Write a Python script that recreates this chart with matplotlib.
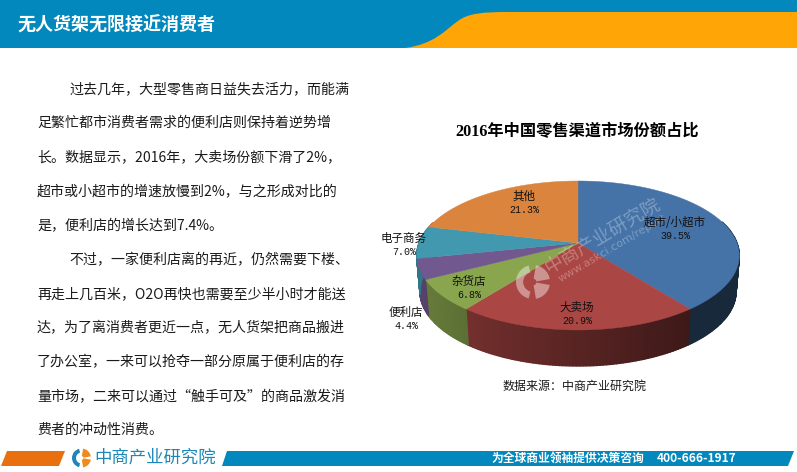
# plot.py
# Retail channel share slide: text column on the left, perspective 3D pie on the right.

import numpy as np
import matplotlib
matplotlib.use("Agg")
import matplotlib.pyplot as plt
from matplotlib.patches import Polygon, PathPatch, Wedge, Rectangle
from matplotlib.path import Path

CJK = "Noto Sans CJK SC"

HEADER_TITLE = "无人货架无限接近消费者"
CHART_TITLE = "2016年中国零售渠道市场份额占比"
SOURCE = "数据来源：中商产业研究院"
COMPANY = "中商产业研究院"
SLOGAN = "为全球商业领袖提供决策咨询"
PHONE = "400-666-1917"

# clockwise from 12 o'clock
CHANNELS = ["超市/小超市", "大卖场", "杂货店", "便利店", "电子商务", "其他"]
SHARES = [39.5, 20.9, 6.8, 4.4, 7.0, 21.3]
COLORS = ["#4572A7", "#AA4643", "#89A54E", "#71588F", "#4198AF", "#DB843D"]
LABEL_XY = [(675, 222), (577, 307), (469, 281), (406, 312), (404, 238), (524, 196)]

PARA_1 = [
    "过去几年，大型零售商日益失去活力，而能满",
    "足繁忙都市消费者需求的便利店则保持着逆势增",
    "长。数据显示，2016年，大卖场份额下滑了2%，",
    "超市或小超市的增速放慢到2%，与之形成对比的",
    "是，便利店的增长达到7.4%。",
]
PARA_2 = [
    "不过，一家便利店离的再近，仍然需要下楼、",
    "再走上几百米，O2O再快也需要至少半小时才能送",
    "达，为了离消费者更近一点，无人货架把商品搬进",
    "了办公室，一来可以抢夺一部分原属于便利店的存",
    "量市场，二来可以通过“触手可及”的商品激发消",
    "费者的冲动性消费。",
]
LINE_Y = [89.5, 123, 157, 192, 226, 260, 294, 328, 362, 397, 430]

BLUE = "#0288BC"
ORANGE = "#FFA505"
FOOT_ORANGE = "#E8700F"

# pie geometry in pixels, perspective projection of a flat disc
CX, CY = 578, 243
RX, RY = 159, 72.4
PERSP = 0.1676
DEPTH = 36


def rim(theta, scale=1.0, dy=0.0):
    x = np.sin(theta)
    z = np.cos(theta)
    s = 1 / (1 + PERSP * z)
    return CX + RX * x * s * scale, CY - RY * z * s + dy


def shade(color, theta):
    f = max(0.36, 0.515 - 0.26 * np.sin(theta))
    return tuple(c * f for c in matplotlib.colors.to_rgb(color))


def draw_pie(ax):
    total = sum(SHARES)
    edges = np.radians(np.concatenate([[0], np.cumsum(SHARES)]) / total * 360)

    # front wall first, one thin quad per degree so the shade can change
    for i, color in enumerate(COLORS):
        t = np.arange(edges[i], edges[i + 1] + 0.018, 0.018)
        t[-1] = min(t[-1], edges[i + 1])
        for a, b in zip(t[:-1], t[1:]):
            if np.cos((a + b) / 2) > 0.3:
                continue
            x1, y1 = rim(a)
            x2, y2 = rim(b)
            x3, y3 = rim(b, 0.98, DEPTH)
            x4, y4 = rim(a, 0.98, DEPTH)
            c = shade(color, (a + b) / 2)
            ax.add_patch(Polygon([(x1, y1), (x2, y2), (x3, y3), (x4, y4)],
                                 closed=True, fc=c, ec=c, lw=1.0, zorder=2))

    # top face
    for i, color in enumerate(COLORS):
        t = np.linspace(edges[i], edges[i + 1], 120)
        x, y = rim(t)
        pts = [(CX, CY)] + list(zip(x, y))
        ax.add_patch(Polygon(pts, closed=True, fc=color, ec=color, lw=0.3, zorder=3))


def draw_logo(ax, cx, cy, r, left, right, alpha=1.0, zorder=5):
    # y axis points down, so wedge angles run clockwise on screen
    ax.add_patch(Wedge((cx, cy), r, 105, 255, width=r * 0.42, fc=left, ec="none",
                       alpha=alpha, zorder=zorder))
    # right half is split by the bar of the mark
    ax.add_patch(Wedge((cx, cy), r, -80, -10, width=r * 0.8, fc=right, ec="none",
                       alpha=alpha, zorder=zorder))
    ax.add_patch(Wedge((cx, cy), r, 10, 80, width=r * 0.8, fc=right, ec="none",
                       alpha=alpha, zorder=zorder))


def main():
    fig = plt.figure(figsize=(7.97, 4.72), dpi=100)
    ax = fig.add_axes([0, 0, 1, 1])
    ax.set_xlim(0, 797)
    ax.set_ylim(472, 0)
    ax.axis("off")

    # header
    ax.add_patch(Rectangle((0, 0), 797, 48, fc=BLUE, ec="none"))
    verts = [(405, 48), (435, 44), (445, 30), (458, 21), (468, 13), (485, 12), (507, 12),
             (797, 12), (797, 48), (405, 48)]
    codes = [Path.MOVETO] + [Path.CURVE4] * 6 + [Path.LINETO] * 2 + [Path.CLOSEPOLY]
    ax.add_patch(PathPatch(Path(verts, codes), fc=ORANGE, ec="none"))
    ax.text(17, 25, HEADER_TITLE, color="white", fontsize=13, fontweight="bold",
            family=CJK, va="center", ha="left")

    # body text
    lines = PARA_1 + PARA_2
    for i, (line, y) in enumerate(zip(lines, LINE_Y)):
        x = 69 if i in (0, len(PARA_1)) else 37
        ax.text(x, y, line, color="#1a1a1a", fontsize=10.08, family=CJK,
                va="center", ha="left")

    # chart
    ax.text(577, 132, CHART_TITLE, color="black", fontsize=11.7, fontweight="bold",
            family=["Liberation Serif", CJK], va="center", ha="center")
    draw_pie(ax)

    # watermark over the pie
    draw_logo(ax, 533, 282, 17, "white", "white", alpha=0.42, zorder=4)
    ax.text(602, 236, COMPANY, color="white", alpha=0.3, fontsize=13.5, family=CJK,
            rotation=30.6, rotation_mode="anchor", va="center", ha="center", zorder=4)
    ax.text(612, 248, "www.askci.com/report", color="white", alpha=0.3, fontsize=8,
            family="DejaVu Sans", rotation=30.6, rotation_mode="anchor",
            va="center", ha="center", zorder=4)

    for name, share, (x, y) in zip(CHANNELS, SHARES, LABEL_XY):
        ax.text(x, y, name, color="#111111", fontsize=8.3, family=CJK,
                va="center", ha="center", zorder=6)
        ax.text(x, y + 14, f"{share:.1f}%", color="#111111", fontsize=7.2,
                family="Liberation Mono", va="center", ha="center", zorder=6)

    ax.text(575, 386, SOURCE, color="#1a1a1a", fontsize=8.64, family=CJK,
            va="center", ha="center")

    # footer
    ax.add_patch(Polygon([(1, 466), (7, 451), (65, 451), (59, 466)], fc=FOOT_ORANGE, ec="none"))
    ax.add_patch(Polygon([(222, 466), (227, 451), (794, 451), (788, 466)], fc=BLUE, ec="none"))
    draw_logo(ax, 81.5, 458, 9.5, "#1C86B8", "#F08A1D")
    ax.text(94, 458, COMPANY, color="#1C86B8", fontsize=12.5, family=CJK,
            va="center", ha="left")
    ax.text(491, 458, SLOGAN, color="white", fontsize=8.5, fontweight="bold", family=CJK,
            va="center", ha="left")
    ax.text(657, 458, PHONE, color="white", fontsize=8.6, fontweight="bold", family=CJK,
            va="center", ha="left")

    fig.savefig("out.png", dpi=100)


if __name__ == "__main__":
    main()
